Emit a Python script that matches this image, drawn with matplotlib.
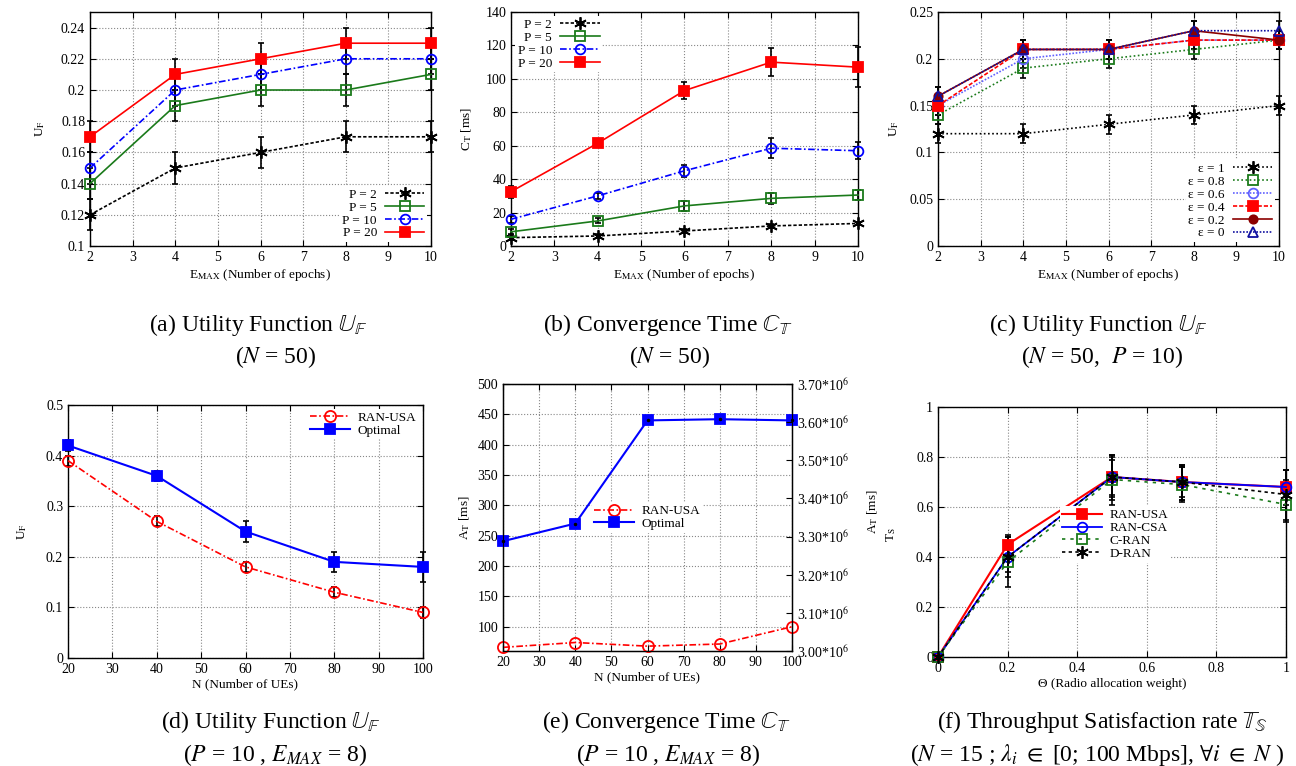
import matplotlib
matplotlib.use("Agg")
import matplotlib.pyplot as plt
from matplotlib.ticker import MultipleLocator, FixedLocator

plt.rcParams['font.family'] = ['Liberation Serif', 'DejaVu Serif']
plt.rcParams['mathtext.fontset'] = 'stix'
plt.rcParams['font.size'] = 10

# ---- data ----
epochs = [2, 4, 6, 8, 10]

# (a) utility function vs epochs
uf_p2 = [0.12, 0.15, 0.16, 0.17, 0.17]
uf_p5 = [0.14, 0.19, 0.20, 0.20, 0.21]
uf_p10 = [0.15, 0.20, 0.21, 0.22, 0.22]
uf_p20 = [0.17, 0.21, 0.22, 0.23, 0.23]
uf_err = [0.01, 0.01, 0.01, 0.01, 0.01]

# (b) convergence time vs epochs
ct_p2 = [5, 6, 9, 12, 13.5]
ct_p5 = [8.5, 15, 24, 28.5, 30.5]
ct_p10 = [16, 30, 45, 58.5, 57]
ct_p20 = [32.5, 61.5, 93, 110, 107]
ct_p2_err = [1.5, 1, 1, 1, 1]
ct_p5_err = [1.5, 1.5, 3, 3.5, 3]
ct_p10_err = [2, 2, 3.5, 6, 5]
ct_p20_err = [3.5, 2, 5, 8.5, 12]

# (c) utility function vs epochs for several epsilon
eps_labels = ['ε = 1', 'ε = 0.8', 'ε = 0.6', 'ε = 0.4', 'ε = 0.2', 'ε = 0']
uf_eps = [
    [0.12, 0.12, 0.13, 0.14, 0.15],
    [0.14, 0.19, 0.20, 0.21, 0.22],
    [0.15, 0.20, 0.21, 0.22, 0.22],
    [0.15, 0.21, 0.21, 0.22, 0.22],
    [0.16, 0.21, 0.21, 0.23, 0.22],
    [0.16, 0.21, 0.21, 0.23, 0.23],
]

# (d) utility function vs number of UEs
n_ues = [20, 40, 60, 80, 100]
uf_ran_usa = [0.39, 0.27, 0.18, 0.13, 0.09]
uf_optimal = [0.42, 0.36, 0.25, 0.19, 0.18]
uf_ran_usa_err = [0.01, 0.01, 0.01, 0.01, 0.01]
uf_optimal_err = [0.01, 0.01, 0.02, 0.02, 0.03]

# (e) convergence time vs number of UEs
at_ran_usa = [66, 74, 68, 71.5, 100]
at_optimal = [241, 270, 440, 442, 440]
right_ticks = [3.00, 3.10, 3.20, 3.30, 3.40, 3.50, 3.60, 3.70]

# (f) throughput satisfaction rate vs theta
theta = [0, 0.2, 0.5, 0.7, 1.0]
ts_ran_usa = [0, 0.45, 0.72, 0.70, 0.68]
ts_ran_csa = [0, 0.40, 0.72, 0.70, 0.68]
ts_c_ran = [0, 0.38, 0.71, 0.69, 0.61]
ts_d_ran = [0, 0.40, 0.72, 0.70, 0.65]
ts_err_usa = [0, 0.04, 0.08, 0.06, 0.03]
ts_err_csa = [0, 0.06, 0.09, 0.07, 0.07]
ts_err_c = [0, 0.10, 0.10, 0.07, 0.07]
ts_err_d = [0, 0.08, 0.07, 0.07, 0.1]

W, H = 1296, 766
fig = plt.figure(figsize=(W / 100, H / 100), dpi=100)

ASTER = (6, 2, 0)   # gnuplot-like asterisk


def rect(l, t, r, b):
    return [l / W, 1 - b / H, (r - l) / W, (b - t) / H]


def style(ax, right=True):
    ax.grid(True, color='#888888', linestyle=':', linewidth=0.8)
    ax.set_axisbelow(True)
    ax.tick_params(direction='in', top=True, right=right, length=4, labelsize=10)
    for s in ax.spines.values():
        s.set_linewidth(1.0)


def series(ax, x, y, err, color, ls, marker, label, mfc=None, ms=6, lw=1.2):
    if err is not None:
        ax.errorbar(x, y, yerr=err, fmt='none', ecolor='black', elinewidth=1.2,
                    capsize=2, capthick=1.2, zorder=3, clip_on=False)
    ax.plot(x, y, color=color, linestyle=ls, marker=marker, ms=ms, lw=lw,
            mfc=color if mfc is None else mfc, mec=color, mew=1.3,
            label=label, zorder=4, clip_on=False)


def legend(ax, **kw):
    leg = ax.legend(frameon=True, fancybox=False, framealpha=1,
                    edgecolor='none', facecolor='white', fontsize=9.5,
                    handlelength=3, labelspacing=0.05, borderpad=0.2,
                    handletextpad=0.6, borderaxespad=0.3, **kw)
    return leg


dense_dash = (0, (2, 1.2))
dash_dot = (0, (4, 1.5, 1, 1.5))

# ---- (a) ----
ax = fig.add_axes(rect(90, 12, 431, 246))
series(ax, epochs, uf_p2, uf_err, 'black', dense_dash, ASTER, 'P = 2', ms=9)
series(ax, epochs, uf_p5, uf_err, '#1a7a1a', '-', 's', 'P = 5', mfc='none', ms=7)
series(ax, epochs, uf_p10, uf_err, 'blue', dash_dot, 'o', 'P = 10', mfc='none', ms=7)
series(ax, epochs, uf_p20, uf_err, 'red', '-', 's', 'P = 20', ms=7)
ax.set_xlim(2, 10)
ax.set_ylim(0.1, 0.25)
ax.xaxis.set_major_locator(MultipleLocator(1))
ax.yaxis.set_major_locator(FixedLocator([0.1, 0.12, 0.14, 0.16, 0.18, 0.2, 0.22, 0.24]))
ax.set_yticklabels(['0.1', '0.12', '0.14', '0.16', '0.18', '0.2', '0.22', '0.24'])
ax.set_xlabel(r'E$_{\rm MAX}$ (Number of epochs)', fontsize=9.5, labelpad=2)
ax.set_ylabel(r'U$_{\rm F}$', fontsize=9.5, labelpad=10)
style(ax)
legend(ax, loc='lower right', markerfirst=False)

# ---- (b) ----
ax = fig.add_axes(rect(511, 12, 858, 246))
series(ax, epochs, ct_p2, ct_p2_err, 'black', dense_dash, ASTER, 'P = 2', ms=9)
series(ax, epochs, ct_p5, ct_p5_err, '#1a7a1a', '-', 's', 'P = 5', mfc='none', ms=7)
series(ax, epochs, ct_p10, ct_p10_err, 'blue', dash_dot, 'o', 'P = 10', mfc='none', ms=7)
series(ax, epochs, ct_p20, ct_p20_err, 'red', '-', 's', 'P = 20', ms=7)
ax.set_xlim(2, 10)
ax.set_ylim(0, 140)
ax.xaxis.set_major_locator(MultipleLocator(1))
ax.yaxis.set_major_locator(MultipleLocator(20))
ax.set_xlabel(r'E$_{\rm MAX}$ (Number of epochs)', fontsize=9.5, labelpad=2)
ax.set_ylabel(r'C$_{\rm T}$ [ms]', fontsize=9.5, labelpad=8)
style(ax)
legend(ax, loc='upper left', markerfirst=False)

# ---- (c) ----
ax = fig.add_axes(rect(938, 12, 1279, 246))
eps_styles = [
    ('black', (0, (1, 1.5)), ASTER, None, 9),
    ('#1a7a1a', (0, (1, 1.5)), 's', 'none', 7),
    ('#6060ff', (0, (1, 1)), 'o', 'none', 7),
    ('red', (0, (2.5, 1.2)), 's', None, 7),
    ('#8b0000', '-', 'o', None, 6),
    ('#1010a0', (0, (1, 1)), '^', 'none', 7),
]
for vals, lab, (c, ls, m, mfc, ms) in zip(uf_eps, eps_labels, eps_styles):
    series(ax, epochs, vals, uf_err, c, ls, m, lab, mfc=mfc, ms=ms)
ax.set_xlim(2, 10)
ax.set_ylim(0, 0.25)
ax.xaxis.set_major_locator(MultipleLocator(1))
ax.yaxis.set_major_locator(FixedLocator([0, 0.05, 0.1, 0.15, 0.2, 0.25]))
ax.set_yticklabels(['0', '0.05', '0.1', '0.15', '0.2', '0.25'])
ax.set_xlabel(r'E$_{\rm MAX}$ (Number of epochs)', fontsize=9.5, labelpad=2)
ax.set_ylabel(r'U$_{\rm F}$', fontsize=9.5, labelpad=6)
style(ax)
legend(ax, loc='lower right', markerfirst=False)

# ---- (d) ----
ax = fig.add_axes(rect(68, 405, 423, 658))
series(ax, n_ues, uf_ran_usa, uf_ran_usa_err, 'red', dash_dot, 'o', 'RAN-USA', mfc='none', ms=8)
series(ax, n_ues, uf_optimal, uf_optimal_err, 'blue', '-', 's', 'Optimal', ms=7, lw=1.5)
ax.set_xlim(20, 100)
ax.set_ylim(0, 0.5)
ax.xaxis.set_major_locator(MultipleLocator(10))
ax.set_yticks([0, 0.1, 0.2, 0.3, 0.4, 0.5])
ax.set_yticklabels(['0', '0.1', '0.2', '0.3', '0.4', '0.5'])
ax.set_xlabel('N (Number of UEs)', fontsize=9.5, labelpad=2)
ax.set_ylabel(r'U$_{\rm F}$', fontsize=9.5, labelpad=12)
style(ax)
legend(ax, loc='upper right')

# ---- (e) ----
ax = fig.add_axes(rect(503, 384, 792, 651))
series(ax, n_ues, at_ran_usa, None, 'red', dash_dot, 'o', 'RAN-USA', mfc='none', ms=8)
series(ax, n_ues, at_optimal, None, 'blue', '-', 's', 'Optimal', ms=7, lw=1.5)
ax.plot(n_ues, at_optimal, 'k.', ms=3, zorder=5, clip_on=False)
ax.set_xlim(20, 100)
ax.set_ylim(60, 500)
ax.xaxis.set_major_locator(MultipleLocator(10))
ax.set_yticks([100, 150, 200, 250, 300, 350, 400, 450, 500])
ax.set_xlabel('N (Number of UEs)', fontsize=9.5, labelpad=2)
ax.set_ylabel(r'A$_{\rm T}$ [ms]', fontsize=9.5, labelpad=4)
style(ax, right=False)
legend(ax, loc='center', bbox_to_anchor=(0.5, 0.5))
ax2 = ax.twinx()
ax2.set_ylim(3.0, 3.7)
ax2.set_yticks(right_ticks)
ax2.set_yticklabels([r'%.2f*10$^{6}$' % v for v in right_ticks])
ax2.tick_params(direction='in', length=4, labelsize=10)
ax2.set_ylabel(r'A$_{\rm T}$ [ms]', fontsize=9.5)
ax2.yaxis.set_label_coords((865 - 503) / (792 - 503), 0.52)

# ---- (f) ----
ax = fig.add_axes(rect(938, 407, 1286, 657))
series(ax, theta, ts_ran_usa, ts_err_usa, 'red', '-', 's', 'RAN-USA', ms=7, lw=1.5)
series(ax, theta, ts_ran_csa, ts_err_csa, 'blue', '-', 'o', 'RAN-CSA', mfc='none', ms=7, lw=1.3)
series(ax, theta, ts_c_ran, ts_err_c, '#1a7a1a', (0, (2, 3)), 's', 'C-RAN', mfc='none', ms=7)
series(ax, theta, ts_d_ran, ts_err_d, 'black', (0, (2, 2)), ASTER, 'D-RAN', ms=9)
ax.set_xlim(0, 1)
ax.set_ylim(0, 1)
ax.set_xticks([0, 0.2, 0.4, 0.6, 0.8, 1])
ax.set_xticklabels(['0', '0.2', '0.4', '0.6', '0.8', '1'])
ax.set_yticks([0, 0.2, 0.4, 0.6, 0.8, 1])
ax.set_yticklabels(['0', '0.2', '0.4', '0.6', '0.8', '1'])
ax.set_xlabel('Θ (Radio allocation weight)', fontsize=9.5, labelpad=2)
ax.set_ylabel(r'T$_{\rm S}$', fontsize=9.5)
ax.yaxis.set_label_coords((898 - 938) / (1286 - 938), 0.49)
style(ax)
legend(ax, loc='center', bbox_to_anchor=(0.51, 0.49))

# ---- captions ----
cap = 17
BB = r'$\mathbb{%s}_{\mathbb{%s}}$'
captions = [
    (258, 276, '(a) Utility Function ' + BB % ('U', 'F'), r'($N$ = 50)'),
    (668, 670, '(b) Convergence Time ' + BB % ('C', 'T'), r'($N$ = 50)'),
    (1098, 1102, '(c) Utility Function ' + BB % ('U', 'F'), r'($N$ = 50,  $P$ = 10)'),
]
for x1, x2, l1, l2 in captions:
    fig.text(x1 / W, 1 - 325 / H, l1, ha='center', va='center', fontsize=cap)
    fig.text(x2 / W, 1 - 357 / H, l2, ha='center', va='center', fontsize=cap)

captions2 = [
    (271, 275, '(d) Utility Function ' + BB % ('U', 'F'), r'($P$ = 10 , $E_{MAX}$ = 8)'),
    (666, 668, '(e) Convergence Time ' + BB % ('C', 'T'), r'($P$ = 10 , $E_{MAX}$ = 8)'),
    (1102, 1097, '(f) Throughput Satisfaction rate ' + BB % ('T', 'S'),
     r'($N$ = 15 ; $\lambda_i$ $\in$ [0; 100 Mbps], $\forall i$ $\in$ $N$ )'),
]
for x1, x2, l1, l2 in captions2:
    fig.text(x1 / W, 1 - 722 / H, l1, ha='center', va='center', fontsize=cap)
    fig.text(x2 / W, 1 - 755 / H, l2, ha='center', va='center', fontsize=cap)

fig.savefig('out.png', dpi=100)
